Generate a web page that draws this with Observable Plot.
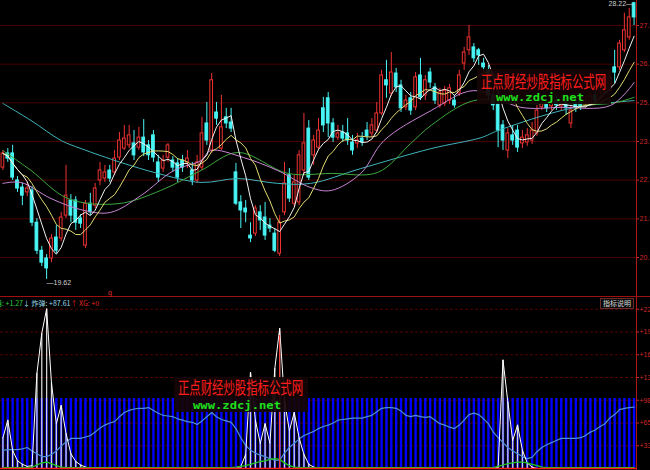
<!DOCTYPE html>
<html><head><meta charset="utf-8">
<script src="https://cdn.jsdelivr.net/npm/d3@7"></script>
<script src="https://cdn.jsdelivr.net/npm/@observablehq/plot@0.6"></script>
<style>
html,body{margin:0;padding:0;background:#000;}
#chart{width:650px;height:470px;overflow:hidden;background:#000;}
#chart svg{display:block;overflow:hidden;}
</style></head><body><div id="chart"></div>
<script>
// ---- price data (one entry per trading day) ----
const opens = [23.09,23.53,23.53,22.69,22.47,22.32,22.38,21.38,20.51,20.27,
20.27,20.92,20.89,21.60,22.07,22.07,21.51,20.67,21.97,21.91,
22.69,22.75,23.00,22.94,23.40,23.68,23.78,23.84,23.71,24.02,
23.78,24.09,23.25,23.06,23.40,23.31,23.22,23.31,23.25,23.00,
22.69,23.09,24.46,23.62,24.80,23.68,24.65,24.49,22.94,22.01,
21.82,20.98,21.04,21.70,21.54,21.29,21.04,20.42,21.70,22.85,
21.97,22.01,23.00,24.30,23.47,23.71,24.93,25.24,24.46,24.02,
24.18,24.15,23.87,23.84,23.99,24.24,24.15,24.24,24.77,25.80,
25.39,26.01,25.64,24.96,25.24,24.96,25.95,25.33,26.04,25.58,
25.02,25.08,25.17,25.17,25.39,26.32,26.73,26.82,26.73,26.32,
26.11,25.33,25.08,24.40,23.62,24.09,24.24,23.84,23.87,23.93,
24.15,24.96,25.08,24.99,25.17,24.99,25.11,24.46,25.08,25.17,
25.05,25.11,25.33,25.24,25.42,25.48,26.20,26.20,26.73,27.13,
28.19];
const highs = [23.62,23.68,23.78,22.81,22.60,22.63,22.50,21.51,20.64,20.39,
21.01,21.29,21.70,23.16,22.25,22.19,21.63,22.07,22.29,22.60,
23.25,23.16,23.16,23.62,24.18,24.40,24.40,24.24,24.34,24.58,
23.93,24.24,23.47,23.47,23.84,23.43,23.37,23.47,23.62,23.25,
23.47,24.65,25.11,26.01,25.11,25.33,24.93,24.93,23.22,22.22,
22.07,21.38,21.91,21.91,22.01,21.51,21.20,21.60,23.25,23.06,
22.85,23.62,24.77,24.55,24.09,24.61,25.27,25.42,24.61,24.40,
24.40,24.61,24.09,24.15,24.18,24.49,24.61,25.11,26.11,26.42,
26.66,26.17,25.80,25.33,25.42,26.04,26.48,25.95,26.17,25.70,
25.55,25.61,25.67,25.33,26.11,26.82,27.50,26.94,26.79,26.48,
26.26,25.48,25.24,24.55,24.30,24.40,24.40,24.24,24.30,24.49,
25.02,25.24,25.21,25.24,25.33,25.33,25.24,25.02,25.24,25.33,
25.30,25.42,25.48,25.67,25.95,26.11,26.73,27.04,27.88,28.03,
28.22];
const lows = [23.00,23.25,22.69,22.32,21.91,22.19,21.26,20.39,20.02,19.62,
20.14,20.42,20.79,21.51,21.38,21.14,21.20,20.58,21.60,21.82,
22.53,22.63,22.63,22.85,23.31,23.62,23.68,23.31,23.62,23.43,
23.31,23.25,22.63,22.94,23.25,22.94,22.63,22.94,23.06,22.53,
22.60,23.00,23.78,23.53,24.40,23.62,24.30,24.18,21.91,21.20,
21.38,20.76,20.95,21.14,20.83,21.07,20.45,20.33,21.60,22.01,
21.88,21.91,22.85,22.69,23.16,23.62,24.18,24.02,23.87,23.93,
23.87,23.78,23.47,23.68,23.75,23.93,24.02,24.15,24.71,25.24,
25.30,25.42,24.80,24.86,24.71,24.86,25.17,25.17,25.55,25.05,
24.93,24.99,25.05,24.93,25.30,26.11,26.57,26.35,26.26,26.04,
25.17,24.86,23.71,23.62,23.37,23.78,23.56,23.68,23.75,23.81,
24.06,24.86,24.80,24.86,24.86,24.86,24.71,24.30,24.80,24.86,
24.93,24.99,25.05,25.17,25.33,25.42,25.70,26.11,26.66,27.04,
27.50];
const closes = [23.53,23.37,22.78,22.44,22.22,22.44,21.38,20.51,20.14,19.96,
20.89,20.51,21.54,22.22,21.60,21.38,21.35,21.97,21.70,22.44,
23.00,22.94,22.75,23.37,23.93,23.99,24.09,23.47,24.02,23.56,
23.47,23.40,22.78,23.31,23.78,23.09,22.78,23.09,23.37,22.69,
23.25,24.15,23.93,25.80,24.61,24.34,24.46,24.30,21.97,21.76,
21.70,20.89,21.82,21.45,20.98,21.20,20.51,21.38,22.60,22.13,
22.63,23.47,23.84,22.78,23.93,24.24,24.40,24.46,24.02,24.15,
23.99,23.93,23.62,23.93,23.87,24.06,24.40,24.77,25.95,25.64,
26.04,25.58,24.93,25.17,24.86,25.89,25.27,25.80,25.73,25.17,
25.42,25.48,25.55,25.02,25.95,26.66,27.13,26.48,26.57,26.20,
25.33,25.02,24.24,23.93,24.15,23.93,23.71,24.02,24.09,24.24,
24.86,25.08,24.93,25.11,25.02,25.17,24.93,24.86,24.93,24.99,
25.17,25.30,25.17,25.55,25.80,25.89,26.04,26.94,27.35,27.75,
27.75];

// longer moving averages: [day index, price]
const ma20 = [[0,22.60],[3.7,22.63],[9.9,22.13],[16.7,21.76],[22.2,21.70],[28.4,22.22],[35.2,23.00],[40.8,23.31],[42.8,23.62],[49.6,23.40],[56.6,23.00],[63.4,22.47],[67.6,22.38],[73.7,22.91],[78.5,23.93],[88.2,24.86],[97,25.48],[106.7,24.96],[114.9,24.96],[125.2,25.02],[130,25.73]];
const ma30 = [[0,23.62],[5.8,23.00],[13.4,22.13],[23.7,21.97],[32.5,22.38],[40.8,23.00],[48.4,23.56],[58.7,22.91],[67.6,22.91],[77.2,22.94],[84,23.84],[88.2,24.40],[97,25.17],[106.7,25.08],[115.5,25.08],[125.2,25.08],[130,25.27]];
const ma60 = [[0,25.08],[5.8,24.55],[12,23.93],[16.1,23.68],[24.3,23.25],[31.9,22.91],[40.8,22.63],[48.4,22.75],[56.6,22.60],[63.4,22.60],[73.7,23.06],[88.2,23.68],[98.5,24.02],[102,24.24],[117,24.93],[130,25.17]];

const priceTicks = [20.3, 21.5, 22.7, 23.9, 25.1, 26.3, 27.5];

// ---- indicator panel ----
const barLevel = 100;
const zhadan = [26,27,27,27,28,30,25,21,17,17,
20,25,32,38,43,43,43,45,47,52,
58,62,65,67,74,80,83,85,86,86,
87,83,79,76,75,74,71,69,67,66,
63,68,74,80,74,70,68,66,57,44,
33,26,22,19,17,14,12,12,22,30,
36,42,47,50,53,57,60,62,65,69,
70,71,72,72,72,74,76,81,86,87,
87,86,82,76,74,76,74,73,74,69,
64,62,59,57,62,69,77,79,77,71,
64,52,44,37,30,25,21,17,14,16,
24,30,34,37,40,43,43,43,43,44,
47,52,55,60,64,72,77,84,86,87,87.61];
const spike = [44,69,26,11,6,3,4,136,193,228,
122,64,90,50,21,10,5,2,0,0,
0,0,0,0,0,0,0,0,0,0,
0,0,0,0,0,0,0,0,0,0,
0,0,0,0,0,0,0,0,0,3,
20,137,69,36,64,36,143,200,97,54,
80,44,20,6,2,0,0,0,0,0,
0,0,0,0,0,0,0,0,0,0,
0,0,0,0,0,0,0,0,0,0,
0,0,0,0,0,0,0,0,0,0,
0,0,2,155,95,40,62,26,8,2,
0,0,0,0,0,0,0,0,0,0,
0,0,0,0,0,0,0,0,0,0,0];
const qi = [1.3,1.3,1.3,1.3,1.3,1.3,2,5,8,9,
7,4,2,1.3,1.3,1.3,1.3,1.3,1.3,1.3,
1.3,1.3,1.3,1.3,1.3,1.3,1.3,1.3,1.3,1.3,
1.3,1.3,1.3,1.3,1.3,1.3,1.3,1.3,1.3,1.3,
1.3,1.3,1.3,1.3,1.3,1.3,1.3,1.3,2,3,
4,6,8,10,11,13,14,13,8,4,
2,1.3,1.3,1.3,1.3,1.3,1.3,1.3,1.3,1.3,
1.3,1.3,1.3,1.3,1.3,1.3,1.3,1.3,1.3,1.3,
1.3,1.3,1.3,1.3,1.3,1.3,1.3,1.3,1.3,1.3,
1.3,1.3,1.3,1.3,1.3,1.3,1.3,1.3,1.3,1.3,
1.3,1.3,3,5,7,8,9,9,8,6,
4,2,1.3,1.3,1.3,1.3,1.3,1.3,1.3,1.3,
1.3,1.3,1.3,1.3,1.3,1.3,1.3,1.3,1.3,1.3,1.27];
const xgValue = 0;
const xgSignals = [[57, 190]];
const indTicks = [32.5, 65, 97.5, 130, 162.5, 195, 227.5];

// ---- build ----
const N = closes.length;
const idx = d3.range(N);
const candles = idx.map(i => ({i, o: opens[i], h: highs[i], l: lows[i], c: closes[i], up: closes[i] >= opens[i]}));
const RED = "#f03232", CYAN = "#48f4f4";
const W = 650, MR = 14, UH = 297, LH = 173;
const baseStyle = {background: "#000", color: "#d02828", fontFamily: "'Liberation Sans', Arial, sans-serif", fontSize: "7px", overflow: "hidden"};

const minI = d3.minIndex(lows), maxI = d3.maxIndex(highs);

const upper = Plot.plot({
  width: W, height: UH, marginLeft: 0, marginRight: MR, marginTop: 0, marginBottom: 0,
  style: baseStyle,
  color: {type: "identity"},
  x: {domain: [-0.5, N - 0.5], axis: null},
  y: {domain: [priceTicks[0], priceTicks[priceTicks.length - 1]], range: [257, 25], axis: "right",
      ticks: priceTicks, tickFormat: d => d.toFixed(1), tickSize: 2, tickPadding: 1, label: null},
  marks: [
    Plot.ruleY(priceTicks, {stroke: "#4a0000"}),
    Plot.ruleX(candles, {x: "i", y1: "l", y2: "h", stroke: d => d.up ? RED : CYAN}),
    Plot.rect(candles, {x1: d => d.i - 0.28, x2: d => d.i + 0.28, y1: "o", y2: "c",
      fill: d => d.up ? "#000" : CYAN, stroke: d => d.up ? RED : CYAN, strokeWidth: 1}),
    Plot.line(ma60, {stroke: "#3fb4bc", strokeWidth: 1, curve: "catmull-rom"}),
    Plot.line(ma30, {stroke: "#3ea83e", strokeWidth: 1, curve: "catmull-rom"}),
    Plot.line(ma20, {stroke: "#c884d4", strokeWidth: 1, curve: "catmull-rom"}),
    Plot.lineY(candles, Plot.windowY({k: 10, anchor: "end"}, {x: "i", y: "c", stroke: "#e0dc70", strokeWidth: 1})),
    Plot.lineY(candles, Plot.windowY({k: 5, anchor: "end"}, {x: "i", y: "c", stroke: "#f2f2f2", strokeWidth: 1})),
    Plot.text([minI], {x: d => d, y: d => lows[d], text: d => "—" + lows[d].toFixed(2), textAnchor: "start", dx: 0, dy: 3, fill: "#cfcfcf"}),
    Plot.text([maxI], {x: d => d, y: d => highs[d], text: d => highs[d].toFixed(2) + "—", textAnchor: "end", dx: -1, dy: 1, fill: "#cfcfcf"})
  ]
});

const lower = Plot.plot({
  width: W, height: LH, marginLeft: 0, marginRight: MR, marginTop: 0, marginBottom: 0,
  style: baseStyle,
  color: {type: "identity"},
  x: {domain: [-0.5, N - 0.5], axis: null},
  y: {domain: [0, 227.5], range: [171, 171 - 227.5 * 0.7], axis: "right",
      ticks: indTicks, tickFormat: d => "+" + Math.round(d), tickSize: 2, tickPadding: 1, label: null},
  marks: [
    Plot.ruleY(indTicks, {stroke: "#560000", strokeDasharray: "3,2"}),
    Plot.ruleX(idx, {x: d => d, y1: 0, y2: barLevel, stroke: "#0000ff", strokeWidth: 2.4}),
    Plot.ruleX(idx.filter(i => spike[i] > 0), {x: d => d, y1: 0, y2: d => spike[d], stroke: "#d4d4d4", strokeWidth: 1.3}),
    Plot.line(idx, {x: d => d, y: d => zhadan[d], stroke: "#4d8fd6", strokeWidth: 1.2}),
    Plot.line(idx, {x: d => d, y: d => spike[d], stroke: "#ffffff", strokeWidth: 1}),
    Plot.line(idx, {x: d => d, y: d => qi[d], stroke: "#22c822", strokeWidth: 1.3}),
    Plot.ruleX(xgSignals, {x: d => d[0], y1: 0, y2: d => d[1], stroke: "#ff2020", strokeWidth: 1}),
    Plot.ruleY([xgValue], {stroke: "#ff1a1a", strokeWidth: 1.5})
  ]
});

const root = document.getElementById("chart");
root.append(upper, lower);

const axisX = W - MR;
// right axis lines and separator
for (const [svg, h] of [[upper, UH], [lower, LH]]) {
  d3.select(svg).append("line").attr("x1", axisX + 0.5).attr("x2", axisX + 0.5).attr("y1", 0).attr("y2", h)
    .attr("stroke", "#b01818").attr("stroke-width", 1);
}
d3.select(upper).append("line").attr("x1", 0).attr("x2", W).attr("y1", UH - 0.5).attr("y2", UH - 0.5)
  .attr("stroke", "#a01010").attr("stroke-width", 1);
d3.select(upper).append("text").attr("x", 108).attr("y", UH - 2).attr("fill", "#e03030").attr("text-anchor", "start")
  .attr("font-size", 7).attr("font-family", "'Liberation Sans', Arial").text("q");

// watermark boxes
function watermark(svg, x, y, redBase) {
  const g = d3.select(svg).append("g").attr("text-anchor", "start");
  g.append("rect").attr("x", x).attr("y", y).attr("width", 134).attr("height", 35).attr("fill", "#140505").attr("fill-opacity", 0.93);
  g.append("text").attr("x", x + 4).attr("y", y + redBase).attr("text-anchor", "start").attr("font-family", "'Noto Sans CJK SC', sans-serif")
    .attr("font-size", 17).attr("fill", "#ff1c1c").attr("textLength", 125).attr("lengthAdjust", "spacingAndGlyphs")
    .text("正点财经炒股指标公式网");
  g.append("text").attr("x", x + 19).attr("y", y + 32).attr("text-anchor", "start").attr("font-family", "'DejaVu Sans Mono', monospace").attr("font-weight", "bold")
    .attr("font-size", 11).attr("fill", "#1ee01e").attr("textLength", 88).attr("lengthAdjust", "spacingAndGlyphs")
    .text("www.zdcj.net");
}
watermark(upper, 477, 69, 19);
watermark(lower, 174, 80, 17);

// indicator header
const fmt = v => "+" + (+v).toFixed(2).replace(/\.00$/, "");
const hdr = d3.select(lower).append("text").attr("x", -5).attr("y", 6.5).attr("dominant-baseline", "middle").attr("text-anchor", "start")
  .attr("font-size", 7).attr("font-family", "'Noto Sans CJK SC', 'Liberation Sans', sans-serif");
hdr.append("tspan").attr("fill", "#2ecc40").text("器: " + fmt(qi[N - 1]));
hdr.append("tspan").attr("fill", "#9ad8e8").text("↓ ");
hdr.append("tspan").attr("fill", "#9ad8e8").text("炸弹: " + fmt(zhadan[N - 1]));
hdr.append("tspan").attr("fill", "#e02828").text("↑ ");
hdr.append("tspan").attr("fill", "#e02828").text("XG: " + fmt(xgValue));

// 指标说明 button
const btn = d3.select(lower).append("g");
btn.append("rect").attr("x", 600.5).attr("y", 1.5).attr("width", 33).attr("height", 10).attr("fill", "#0a0a0a").attr("stroke", "#6a2a2a");
btn.append("text").attr("x", 617).attr("y", 6.8).attr("text-anchor", "middle").attr("dominant-baseline", "middle")
  .attr("font-size", 7).attr("fill", "#d8d8d8").attr("font-family", "'Noto Sans CJK SC', sans-serif").text("指标说明");
</script>
</body></html>
